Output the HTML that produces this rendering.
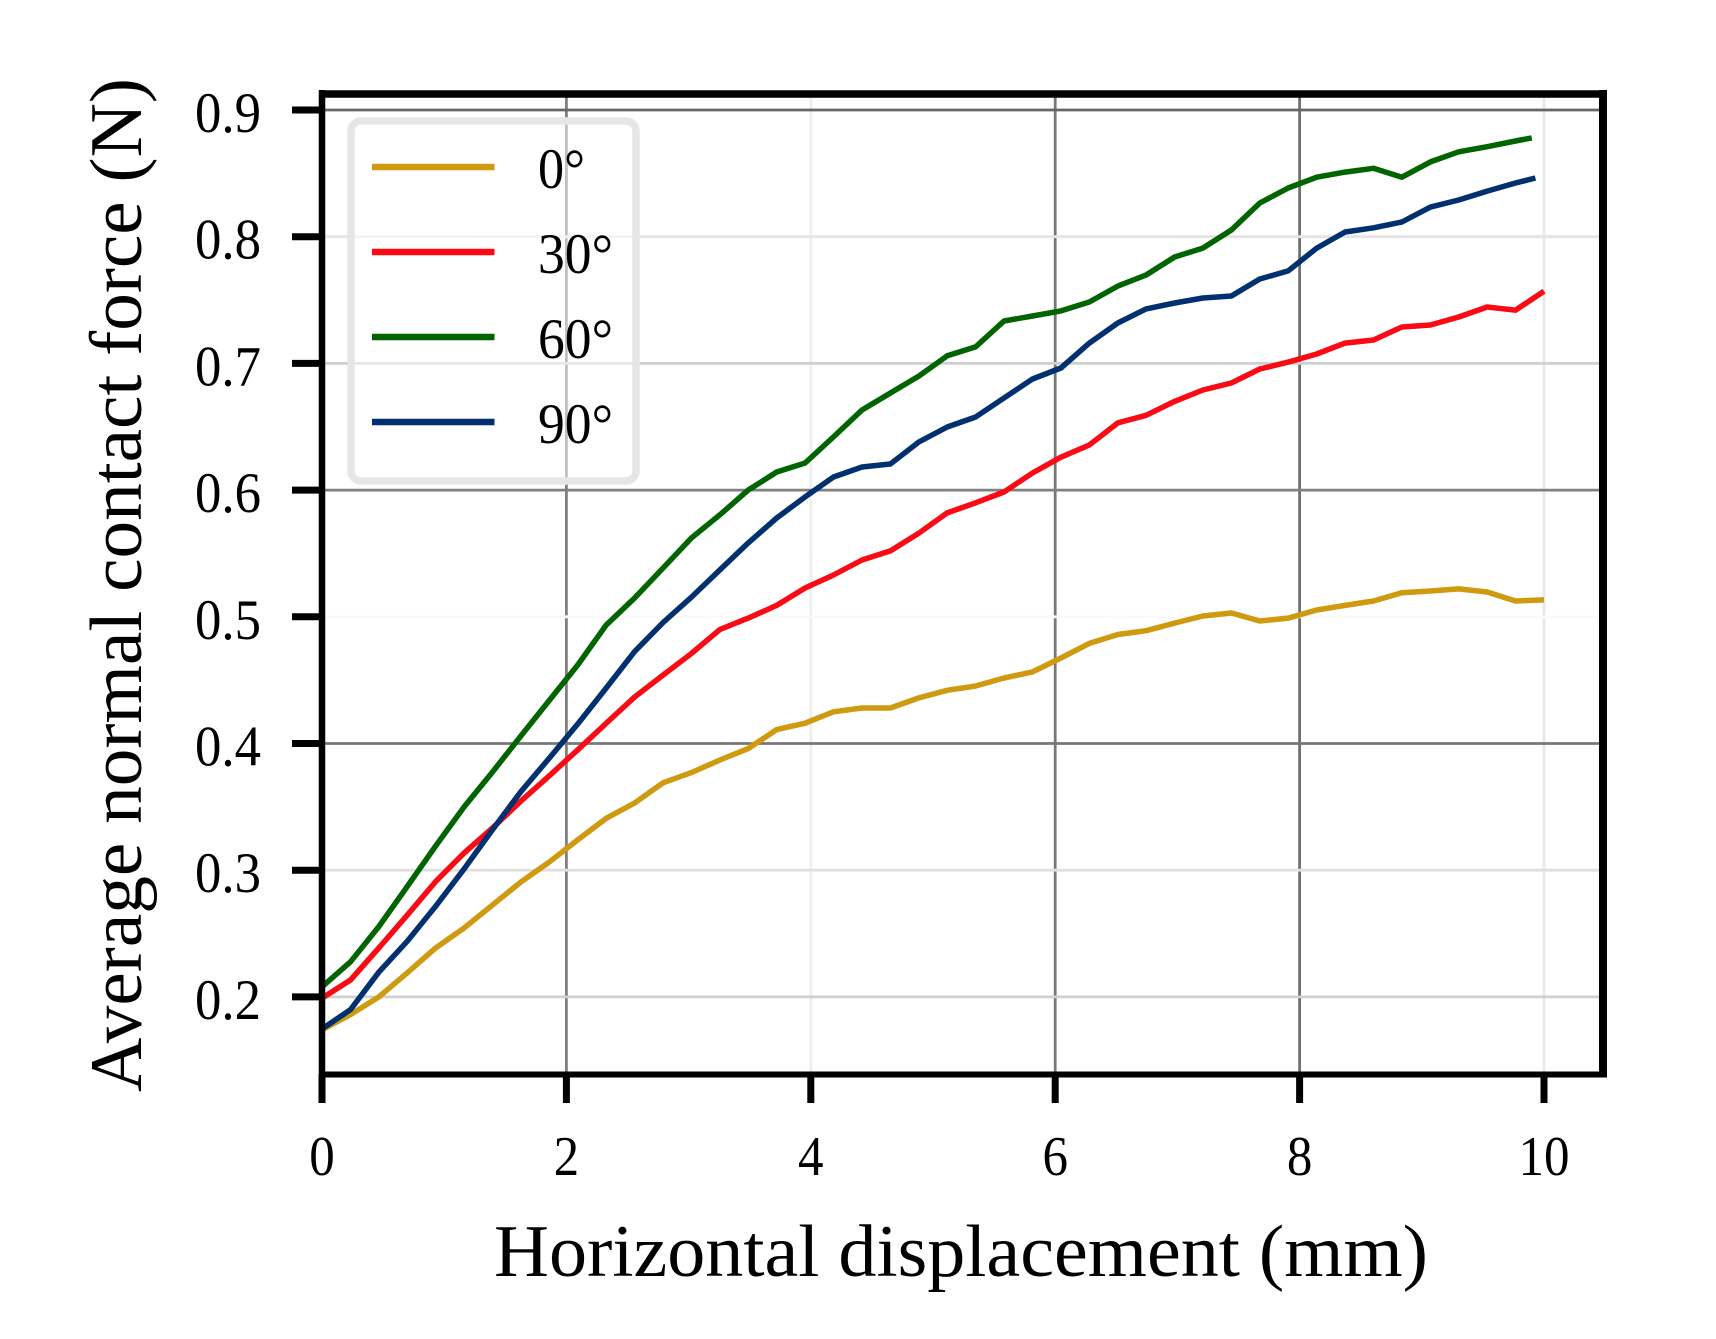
<!DOCTYPE html>
<html lang="en">
<head>
<meta charset="utf-8">
<title>Average normal contact force vs horizontal displacement</title>
<style>
html,body{margin:0;padding:0;background:#fff;}
svg{display:block;}
text{font-family:"Liberation Serif",serif;fill:#000;}
</style>
</head>
<body>
<svg id="chart" xmlns="http://www.w3.org/2000/svg" width="1716" height="1339" viewBox="0 0 1716 1339">
  <rect x="0" y="0" width="1716" height="1339" fill="#ffffff"/>
  <g id="grid"></g>
  <g id="series"></g>
  <g id="legend">
    <rect x="351" y="121" width="285" height="360" rx="10" ry="10" fill="#ffffff" fill-opacity="0.5" stroke="#e6e6e6" stroke-width="7.5"/>
  </g>
  <g id="spines">
    <line x1="319" y1="94" x2="1607" y2="94" stroke="#000" stroke-width="7.5"/>
    <line x1="1603" y1="90" x2="1603" y2="1077" stroke="#000" stroke-width="8"/>
    <line x1="319" y1="1074.5" x2="1607" y2="1074.5" stroke="#000" stroke-width="6"/>
    <line x1="322" y1="90" x2="322" y2="1077" stroke="#000" stroke-width="6.5"/>
  </g>
  <g id="ticks"></g>
  <text x="494" y="1276" font-size="74" textLength="934" lengthAdjust="spacingAndGlyphs">Horizontal displacement (mm)</text>
  <text transform="translate(141,1092) rotate(-90)" x="0" y="0" font-size="74" textLength="1014" lengthAdjust="spacingAndGlyphs">Average normal contact force (N)</text>
</svg>
<script>
const xTicks = [0, 2, 4, 6, 8, 10];
const yTicks = [0.9, 0.8, 0.7, 0.6, 0.5, 0.4, 0.3, 0.2];
const xTickLabels = ["0", "2", "4", "6", "8", "10"];
const yTickLabels = ["0.9", "0.8", "0.7", "0.6", "0.5", "0.4", "0.3", "0.2"];
const seriesNames = ["0°", "30°", "60°", "90°"];

const displacementGold = [0,.233,.465,.698,.930,1.163,1.395,1.628,1.860,2.093,2.326,2.558,2.791,3.023,3.256,3.488,3.721,3.953,4.186,4.419,4.651,4.884,5.116,5.349,5.581,5.814,6.047,6.279,6.512,6.744,6.977,7.209,7.442,7.674,7.907,8.140,8.372,8.605,8.837,9.070,9.302,9.535,9.767,10];
const displacementRed = [0,.233,.465,.698,.930,1.163,1.395,1.628,1.860,2.093,2.326,2.558,2.791,3.023,3.256,3.488,3.721,3.953,4.186,4.419,4.651,4.884,5.116,5.349,5.581,5.814,6.047,6.279,6.512,6.744,6.977,7.209,7.442,7.674,7.907,8.140,8.372,8.605,8.837,9.070,9.302,9.535,9.767,10];
const displacementGreen = [0,.233,.465,.698,.930,1.163,1.395,1.628,1.860,2.093,2.326,2.558,2.791,3.023,3.256,3.488,3.721,3.953,4.186,4.419,4.651,4.884,5.116,5.349,5.581,5.814,6.047,6.279,6.512,6.744,6.977,7.209,7.442,7.674,7.907,8.140,8.372,8.605,8.837,9.070,9.302,9.535,9.767,9.90];
const displacementBlue = [0,.233,.465,.698,.930,1.163,1.395,1.628,1.860,2.093,2.326,2.558,2.791,3.023,3.256,3.488,3.721,3.953,4.186,4.419,4.651,4.884,5.116,5.349,5.581,5.814,6.047,6.279,6.512,6.744,6.977,7.209,7.442,7.674,7.907,8.140,8.372,8.605,8.837,9.070,9.302,9.535,9.767,9.93];

const forceGold = [.174,.186,.200,.219,.2386,.2544,.2725,.2907,.3065,.324,.341,.353,.369,.377,.387,.396,.411,.416,.425,.428,.428,.436,.442,.4454,.4517,.4565,.4675,.479,.486,.489,.495,.5006,.503,.4967,.499,.5054,.509,.5125,.519,.5204,.522,.5196,.5125,.5133];
const forceRed = [.199,.2133,.2386,.2646,.291,.3136,.3333,.3545,.3745,.395,.416,.4367,.454,.471,.490,.499,.509,.5227,.533,.5448,.552,.566,.582,.590,.5985,.6135,.626,.6356,.653,.659,.670,.679,.6845,.6956,.701,.7074,.716,.7185,.7287,.7303,.7366,.7445,.742,.757];
const forceGreen = [.208,.2277,.2555,.2872,.319,.35,.3775,.406,.434,.462,.4935,.5148,.5385,.5622,.5805,.60,.6143,.6214,.642,.6632,.6766,.690,.706,.713,.7335,.7374,.7414,.7485,.761,.7698,.784,.791,.8053,.8266,.8384,.847,.851,.854,.847,.859,.867,.871,.8755,.878];
const forceBlue = [.1747,.19,.2195,.244,.2715,.301,.332,.362,.3885,.4155,.4438,.4725,.4955,.5155,.537,.5583,.578,.5946,.6103,.6182,.6206,.638,.6498,.6577,.6727,.6877,.6964,.716,.7319,.743,.7477,.7516,.7532,.7666,.773,.791,.8037,.807,.8116,.8234,.829,.836,.8424,.8463];

const seriesX = [displacementGold, displacementRed, displacementGreen, displacementBlue];
const seriesY = [forceGold, forceRed, forceGreen, forceBlue];

/* styling kept apart from the data */
const seriesColors = ["#cf9a10", "#fa0a14", "#006400", "#00306f"];
const seriesSlugs = ["gold", "red", "green", "blue"];
const xGridColors = ["none", "#808080", "#eeeeee", "#777777", "#707070", "#e8e8e8"];
const yGridColors = ["#666666", "#e4e4e4", "#cfcfcf", "#808080", "#fafafa", "#777777", "#e0e0e0", "#d0d0d0"];

const NS = "http://www.w3.org/2000/svg";
function xScale(v) { return 322 + 122.2 * v; }
function yScale(v) { return 110 + (0.9 - v) * 1267; }
function make(tag, parent, attrs) {
  const el = document.createElementNS(NS, tag);
  for (const k in attrs) el.setAttribute(k, attrs[k]);
  parent.appendChild(el);
  return el;
}

const gridGroup = document.getElementById("grid");
const tickGroup = document.getElementById("ticks");
const seriesGroup = document.getElementById("series");
const legendGroup = document.getElementById("legend");

xTicks.forEach(function (t, i) {
  const px = xScale(t);
  if (xGridColors[i] !== "none") {
    const g = make("line", gridGroup, {x1: px, y1: 94, x2: px, y2: 1074, stroke: xGridColors[i], "stroke-width": 2.8});
    
    
  }
  const m = make("line", tickGroup, {x1: px, y1: 1074, x2: px, y2: 1103, stroke: "#000", "stroke-width": 7});
  
  
  const l = make("text", tickGroup, {x: px, y: 1175, "font-size": 56, "text-anchor": "middle", textLength: 25.5 * xTickLabels[i].length, lengthAdjust: "spacingAndGlyphs"});
  
  
  l.textContent = xTickLabels[i];
});

yTicks.forEach(function (t, i) {
  const py = yScale(t);
  const g = make("line", gridGroup, {x1: 322, y1: py, x2: 1603, y2: py, stroke: yGridColors[i], "stroke-width": 2.8});
  
  
  const m = make("line", tickGroup, {x1: 292, y1: py, x2: 322, y2: py, stroke: "#000", "stroke-width": 7});
  
  
  const l = make("text", tickGroup, {x: 261, y: py + 22, "font-size": 57, "text-anchor": "end", textLength: 66, lengthAdjust: "spacingAndGlyphs"});
  
  
  l.textContent = yTickLabels[i];
});

seriesNames.forEach(function (name, i) {
  const pts = seriesX[i].map(function (x, k) {
    return xScale(x).toFixed(1) + "," + yScale(seriesY[i][k]).toFixed(1);
  }).join(" ");
  const line = make("polyline", seriesGroup, {points: pts, fill: "none", stroke: seriesColors[i], "stroke-width": 5.5, "stroke-linejoin": "round"});
  
  

  const rowY = 167 + 85 * i;
  const swatch = make("line", legendGroup, {x1: 372, y1: rowY, x2: 494.5, y2: rowY, stroke: seriesColors[i], "stroke-width": 6.5});
  
  
  const label = make("text", legendGroup, {x: 538, y: rowY + 21, "font-size": 57, textLength: name.length === 2 ? 47 : 75, lengthAdjust: "spacingAndGlyphs"});
  
  
  label.textContent = name;
});
</script>
</body>
</html>
